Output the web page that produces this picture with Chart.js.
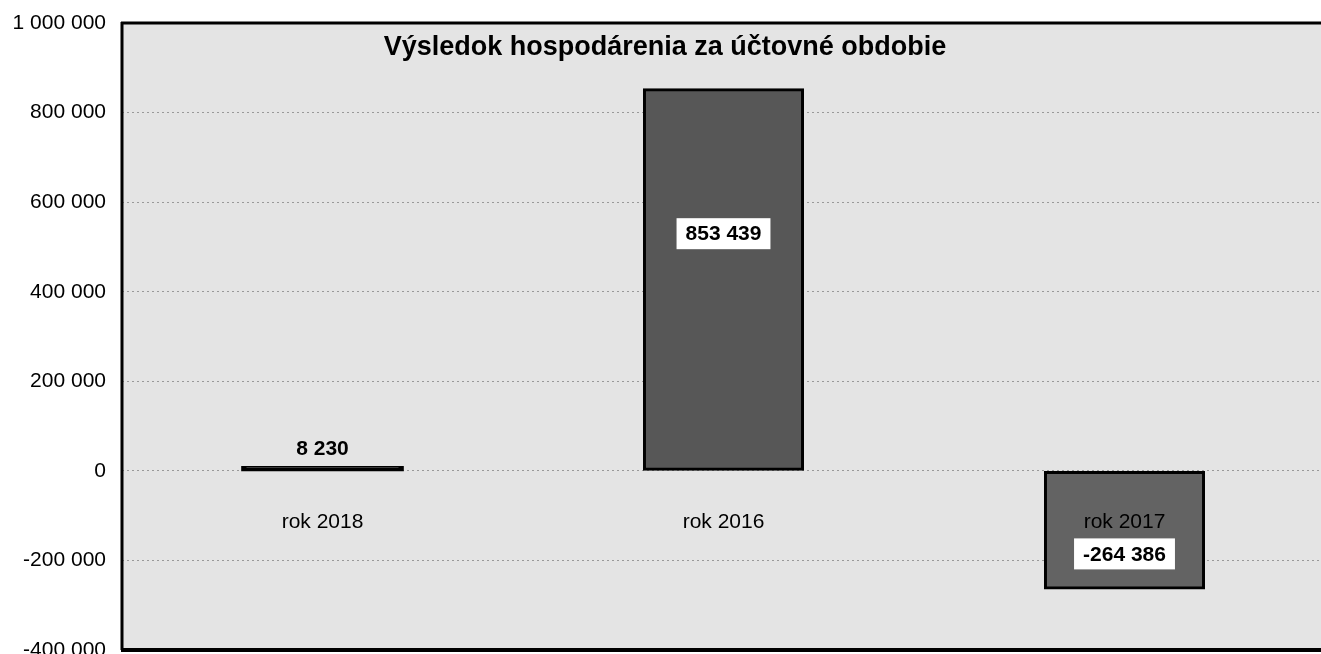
<!DOCTYPE html>
<html>
<head>
<meta charset="utf-8">
<script src="https://cdn.jsdelivr.net/npm/chart.js@4"></script>
<style>
html,body{margin:0;padding:0;background:#fff;overflow:hidden;}
#wrap{width:1325px;height:654px;position:relative;}
</style>
</head>
<body>
<div id="wrap"><canvas id="c"></canvas></div>
<script>
const categories = ['rok 2018', 'rok 2016', 'rok 2017'];
const values = [8230, 853439, -264386];
const titleText = 'Výsledok hospodárenia za účtovné obdobie';
const yMin = -400000, yMax = 1000000, yStep = 200000;
const barColors = ['#000000', '#575757', '#636363'];

const FONT = '"Liberation Sans", Arial, sans-serif';
function fmt(v){
  const s = Math.abs(Math.round(v)).toString().replace(/\B(?=(\d{3})+(?!\d))/g, ' ');
  return (v < 0 ? '-' : '') + s;
}

const decor = {
  id: 'decor',
  beforeDraw(chart){
    const {ctx, chartArea:a} = chart;
    ctx.save();
    ctx.fillStyle = '#ffffff';
    ctx.fillRect(0,0,chart.width,chart.height);
    ctx.fillStyle = '#e4e4e4';
    ctx.fillRect(a.left, a.top, a.right-a.left, a.bottom-a.top);
    ctx.restore();
  },
  afterDatasetsDraw(chart){
    const {ctx, chartArea:a, scales} = chart;
    const y0 = scales.y.getPixelForValue(0);
    const meta = chart.getDatasetMeta(0);
    ctx.save();
    // category labels near the zero line
    ctx.font = '21px ' + FONT;
    ctx.fillStyle = '#000';
    ctx.textAlign = 'center';
    ctx.textBaseline = 'middle';
    categories.forEach((c,i)=>{
      ctx.fillText(c, scales.x.getPixelForValue(i), y0 + 51);
    });
    // data labels
    ctx.font = 'bold 21px ' + FONT;
    meta.data.forEach((bar,i)=>{
      const v = values[i];
      const txt = fmt(v);
      const h = Math.abs(bar.base - bar.y);
      let cy;
      if (h < 40) {
        cy = Math.min(bar.y, bar.base) - 18;
        ctx.fillStyle = '#000';
        ctx.fillText(txt, bar.x, cy);
        return;
      }
      if (v >= 0) cy = bar.base - h*0.62; else cy = bar.base + h*0.7;
      const w = ctx.measureText(txt).width + 18;
      const bh = 31;
      ctx.fillStyle = '#ffffff';
      ctx.fillRect(bar.x - w/2, cy - bh/2, w, bh);
      ctx.fillStyle = '#000';
      ctx.fillText(txt, bar.x, cy + 1);
    });
    // frame lines
    ctx.strokeStyle = '#000';
    ctx.lineWidth = 3;
    ctx.beginPath(); ctx.moveTo(a.left, a.top-1); ctx.lineTo(a.left, a.bottom); ctx.stroke();
    ctx.beginPath(); ctx.moveTo(a.left-1, a.top); ctx.lineTo(chart.width, a.top); ctx.stroke();
    ctx.lineWidth = 4;
    ctx.beginPath(); ctx.moveTo(a.left-1, a.bottom); ctx.lineTo(chart.width, a.bottom); ctx.stroke();
    // title
    ctx.font = 'bold 27px ' + FONT;
    ctx.fillStyle = '#000';
    ctx.textAlign = 'center';
    ctx.fillText(titleText, 665, 48);
    ctx.restore();
  }
};

new Chart(document.getElementById('c'), {
  type: 'bar',
  data: {
    labels: categories,
    datasets: [{
      data: values,
      backgroundColor: barColors,
      borderColor: '#000',
      borderWidth: 3,
      borderSkipped: false,
      inflateAmount: c => (c.dataIndex === 0 ? 1.2 : 0.33),
      barPercentage: 0.4,
      categoryPercentage: 1.0
    }]
  },
  options: {
    responsive: true,
    maintainAspectRatio: false,
    animation: false,
    layout: { padding: { top: 23, bottom: 4, left: 0, right: 0 } },
    plugins: { legend: { display: false }, tooltip: { enabled: false }, title: { display: false } },
    scales: {
      x: { display: false, offset: true },
      y: {
        min: yMin, max: yMax,
        border: { display: false, dash: [2, 3] },
        grid: { color: '#999999', lineWidth: 1, drawTicks: false, tickLength: 0 },
        ticks: {
          stepSize: yStep,
          padding: 16,
          color: '#000',
          font: { family: FONT, size: 21 },
          callback: v => fmt(v)
        },
        afterFit(s){ s.width = 122; s.paddingTop = 0; s.paddingBottom = 0; }
      }
    }
  },
  plugins: [decor]
});
</script>
</body>
</html>
